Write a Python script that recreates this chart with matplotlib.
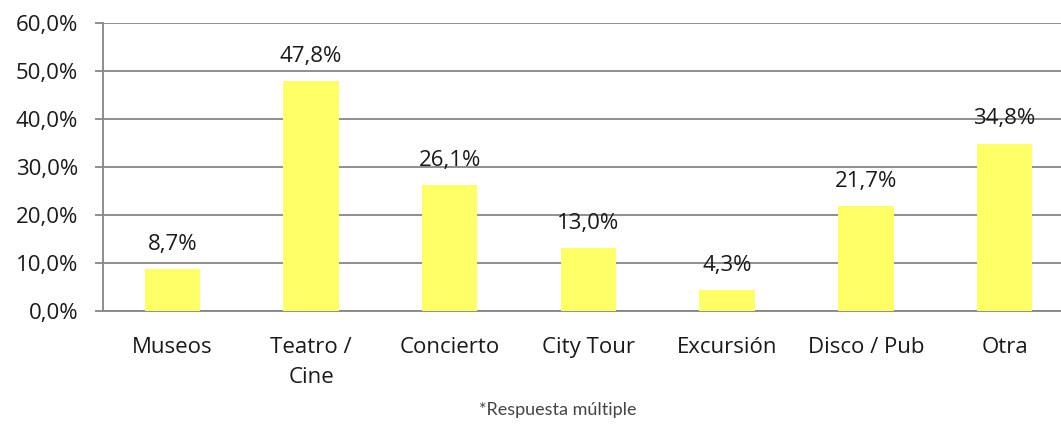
import matplotlib
matplotlib.use("Agg")
import matplotlib.pyplot as plt
import numpy as np

categories = ["Museos", "Teatro /\nCine", "Concierto", "City Tour", "Excursión", "Disco / Pub", "Otra"]
values = [8.7, 47.8, 26.1, 13.0, 4.3, 21.7, 34.8]
yticks = [0, 10, 20, 30, 40, 50, 60]

plt.rcParams['font.family'] = ['Open Sans', 'DejaVu Sans']

W, H = 1061, 425
fig = plt.figure(figsize=(W / 100, H / 100), dpi=100)
left_px, right_px, top_px, bottom_px = 103, 1061, 22.7, 310.5
ax = fig.add_axes([left_px / W, 1 - bottom_px / H, (right_px - left_px) / W, (bottom_px - top_px) / H])

cat_w = 138.7
x = np.arange(len(categories))
ax.bar(x, values, width=0.40, color="#FFFF66", zorder=3)
for xi, v in zip(x, values):
    ax.text(xi, v + 4.0, f"{v:.1f}%".replace(".", ","), ha="center", va="baseline",
            fontsize=16, color="#1a1a1a", zorder=4)

ax.set_xlim(-0.5, -0.5 + (right_px - left_px) / cat_w)
ax.set_ylim(0, 60)
ax.set_yticks(yticks)
ax.set_yticklabels([f"{t:.1f}%".replace(".", ",") for t in yticks], fontsize=16, color="#1a1a1a")
ax.set_xticks(x)
ax.set_xticklabels(categories, fontsize=16, color="#1a1a1a", linespacing=1.6)
ax.yaxis.grid(True, color="#868686", linewidth=1.3, zorder=0)
ax.tick_params(axis="y", length=6, color="#868686", width=1.3, pad=12)
ax.tick_params(axis="x", length=0, pad=19)
for s in ["top", "right"]:
    ax.spines[s].set_visible(False)
ax.spines["left"].set_color("#868686")
ax.spines["left"].set_linewidth(1.3)
ax.spines["bottom"].set_color("#868686")
ax.spines["bottom"].set_linewidth(1.3)

fig.text(558 / W, 1 - 410 / H, "*Respuesta múltiple", ha="center", va="center",
         fontsize=13, color="#444444", family=["Lato", "DejaVu Sans"], fontweight="normal")

fig.savefig("out.png", dpi=100)
